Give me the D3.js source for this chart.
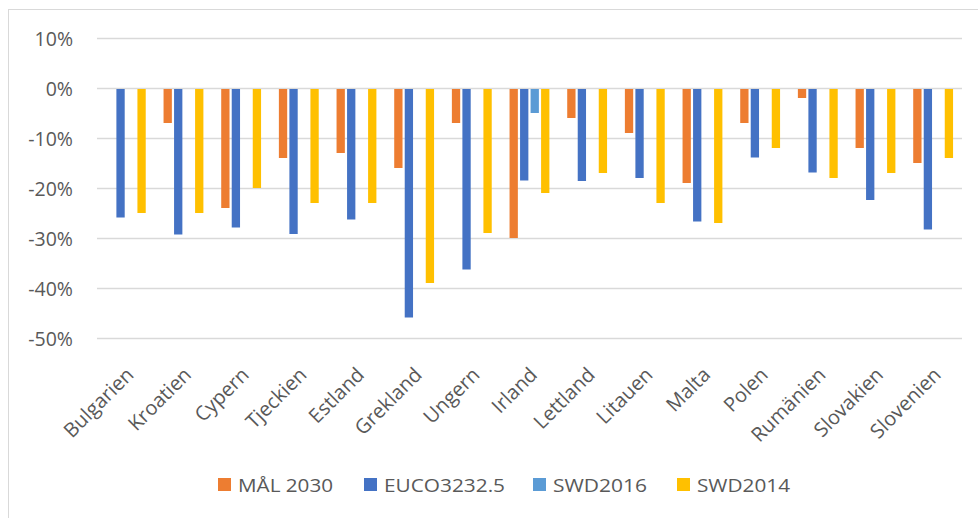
<!DOCTYPE html>
<html>
<head>
<meta charset="utf-8">
<script src="https://cdn.jsdelivr.net/npm/d3@7"></script>
<style>
  html, body { margin: 0; padding: 0; background: #fff; }
  svg { display: block; }
</style>
</head>
<body>
<svg id="chart" width="978" height="518"></svg>
<script>
const categories = ["Bulgarien","Kroatien","Cypern","Tjeckien","Estland","Grekland","Ungern","Irland","Lettland","Litauen","Malta","Polen","Rumänien","Slovakien","Slovenien"];
const seriesNames = ["MÅL 2030","EUCO3232.5","SWD2016","SWD2014"];
const mal2030   = [null, -0.07, -0.24, -0.14, -0.13, -0.16, -0.07, -0.30, -0.06, -0.09, -0.19, -0.07, -0.02, -0.12, -0.15];
const euco32325 = [-0.259, -0.293, -0.279, -0.292, -0.263, -0.459, -0.363, -0.185, -0.186, -0.180, -0.267, -0.139, -0.169, -0.224, -0.283];
const swd2016   = [null, null, null, null, null, null, null, -0.05, null, null, null, null, null, null, null];
const swd2014   = [-0.25, -0.25, -0.20, -0.23, -0.23, -0.39, -0.29, -0.21, -0.17, -0.23, -0.27, -0.12, -0.18, -0.17, -0.14];
const yTicks = [0.10, 0, -0.10, -0.20, -0.30, -0.40, -0.50];
const yTickLabels = ["10%", "0%", "-10%", "-20%", "-30%", "-40%", "-50%"];
const colors = ["#ED7D31", "#4472C4", "#5B9BD5", "#FFC000"];

const seriesValues = [mal2030, euco32325, swd2016, swd2014];

const svg = d3.select("#chart");
const plot = { left: 97, right: 962, top: 38, bottom: 338 };

// chart border (only top & left visible in frame)
svg.append("rect")
  .attr("x", 8.5).attr("y", 9.5)
  .attr("width", 1000).attr("height", 600)
  .attr("fill", "none").attr("stroke", "#d9d9d9").attr("stroke-width", 1);

const y = d3.scaleLinear().domain([-0.5, 0.1]).range([plot.bottom, plot.top]);
const x0 = d3.scaleBand().domain(categories).range([plot.left, plot.right]);
const bw = x0.bandwidth();
const x1 = d3.scaleBand().domain(seriesNames).range([bw * 0.154, bw * 0.845]).paddingInner(0.21);

// gridlines + y labels
const yAxis = d3.axisLeft(y).tickValues(yTicks)
  .tickSize(-(plot.right - plot.left))
  .tickFormat((d, i) => yTickLabels[i]);
const gY = svg.append("g").attr("transform", `translate(${plot.left},0)`).call(yAxis);
gY.select(".domain").remove();
gY.selectAll(".tick line").attr("stroke", "#d9d9d9").attr("stroke-width", 1.5);
gY.selectAll(".tick text")
  .attr("x", -24)
  .attr("dy", "0.36em")
  .attr("fill", "#595959")
  .attr("font-family", "'Open Sans', sans-serif")
  .attr("font-size", 19.5);

// bars
const barData = [];
categories.forEach((c, ci) => {
  seriesNames.forEach((s, si) => {
    const v = seriesValues[si][ci];
    if (v !== null) barData.push({ c, s, si, v });
  });
});
svg.append("g").selectAll("rect").data(barData).join("rect")
  .attr("x", d => x0(d.c) + x1(d.s))
  .attr("width", x1.bandwidth())
  .attr("y", d => y(Math.max(0, d.v)) + 1)
  .attr("height", d => Math.abs(y(d.v) - y(0)) - 1)
  .attr("fill", d => colors[d.si]);

// x labels
const xAxis = d3.axisBottom(x0).tickSize(0);
const gX = svg.append("g").attr("transform", `translate(0,${plot.bottom})`).call(xAxis);
gX.select(".domain").remove();
gX.selectAll(".tick text")
  .attr("fill", "#595959")
  .attr("font-family", "'Open Sans', sans-serif")
  .attr("font-size", 20)
  .attr("text-anchor", "end")
  .attr("dy", 0)
  .attr("y", 0)
  .attr("transform", "translate(9,38) rotate(-45)");

// legend
const legendX = [218, 364, 533, 677];
const legendW = [95, 121, 94, 93];
const leg = svg.append("g");
seriesNames.forEach((s, i) => {
  const g = leg.append("g").attr("transform", `translate(${legendX[i]},478)`);
  g.append("rect").attr("width", 13).attr("height", 13).attr("fill", colors[i]);
  g.append("text").attr("x", 20).attr("y", 14)
    .attr("fill", "#595959")
    .attr("font-family", "'Open Sans', sans-serif")
    .attr("font-size", 19)
    .attr("textLength", legendW[i])
    .attr("lengthAdjust", "spacingAndGlyphs")
    .text(s);
});
</script>
</body>
</html>
